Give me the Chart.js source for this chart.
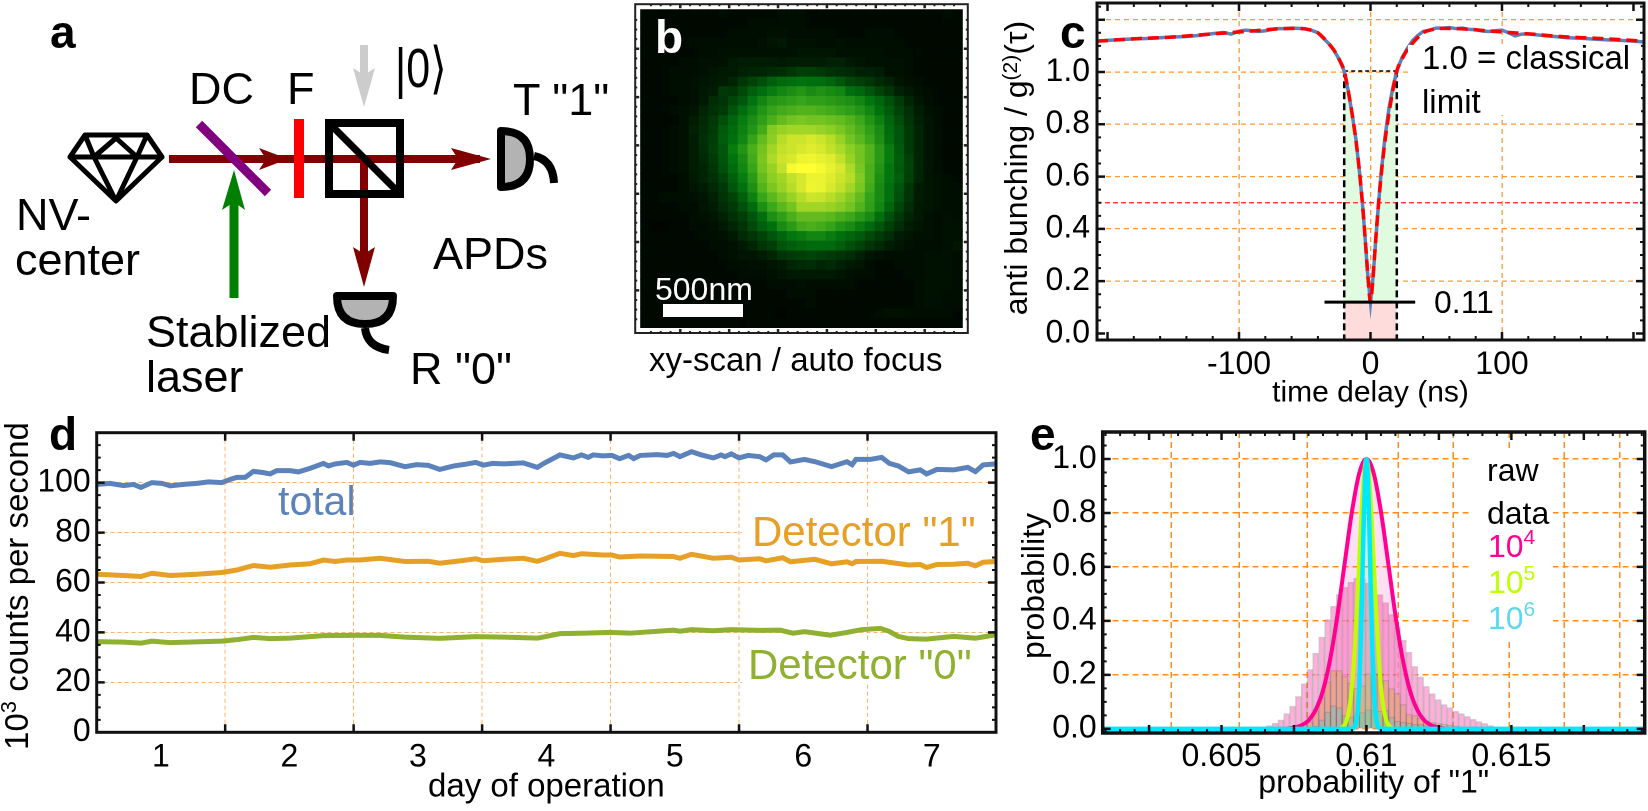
<!DOCTYPE html>
<html>
<head>
<meta charset="utf-8">
<title>NV center measurements</title>
<script src="https://cdn.jsdelivr.net/npm/chart.js@4"></script>
<style>
  html, body { margin: 0; padding: 0; background: #fff; }
  body { position: relative; width: 1648px; height: 811px; overflow: hidden; }
  .panel { position: absolute; }
  #overlay { position: absolute; left: 0; top: 0; pointer-events: none; font-family: "Liberation Sans", Arial, sans-serif; }
</style>
</head>
<body>
<div class="panel" style="left:633px;top:2px;width:337px;height:336px"><canvas id="scanChart"></canvas></div>
<div class="panel" style="left:1040px;top:0;width:608px;height:411px"><canvas id="antiChart"></canvas></div>
<div class="panel" style="left:40px;top:420px;width:965px;height:387px"><canvas id="countsChart"></canvas></div>
<div class="panel" style="left:1014px;top:420px;width:634px;height:383px"><canvas id="probChart"></canvas></div>

<svg id="overlay" width="1648" height="811" xmlns="http://www.w3.org/2000/svg">
  <!-- a: setup drawing -->
  <g fill="none" stroke="#000" stroke-width="5" stroke-linejoin="round" stroke-linecap="round">
    <path d="M85 135 L147 135 L162 157 L116 201 L70 157 Z M70 157 L162 157 M85 135 L94 157 L116 138 L137 157 L147 135 M94 157 L116 201 L137 157"/>
  </g>
  <line x1="169" y1="159" x2="480" y2="159" stroke="#800000" stroke-width="8"/>
  <polygon points="259,148 288,159 259,170 266,159" fill="#800000"/>
  <polygon points="451,148 491,159 451,170 458,159" fill="#800000"/>
  <line x1="364" y1="160" x2="364" y2="270" stroke="#800000" stroke-width="8"/>
  <polygon points="353,247 364,287 375,247 364,254" fill="#800000"/>
  <line x1="234" y1="298" x2="234" y2="200" stroke="#008000" stroke-width="9"/>
  <polygon points="222,210 234,170 245,210 234,202" fill="#008000"/>
  <line x1="364" y1="45" x2="364" y2="80" stroke="#cccccc" stroke-width="8"/>
  <polygon points="353,68 364,107 375,68 364,75" fill="#cccccc"/>
  <line x1="199" y1="124" x2="268" y2="193" stroke="#800080" stroke-width="9"/>
  <rect x="294" y="119" width="10" height="79" fill="#ff0000"/>
  <rect x="329" y="123" width="71" height="71" fill="none" stroke="#000" stroke-width="8"/>
  <line x1="331" y1="125" x2="398" y2="192" stroke="#000" stroke-width="7"/>
  <path d="M501 131 Q530 131 530 159 Q530 187 501 187 Z" fill="#b3b3b3" stroke="#000" stroke-width="8" stroke-linejoin="round"/>
  <path d="M534 156 Q553 160 554 183" fill="none" stroke="#000" stroke-width="8"/>
  <path d="M337 296 L393 296 Q393 324 365 324 Q337 324 337 296 Z" fill="#b3b3b3" stroke="#000" stroke-width="8" stroke-linejoin="round"/>
  <path d="M365 328 Q367 347 389 350" fill="none" stroke="#000" stroke-width="8"/>
  <g font-size="45" fill="#000">
    <text x="189" y="104">DC</text>
    <text x="287" y="104">F</text>
    <text x="395" y="87" font-size="56" textLength="52" lengthAdjust="spacingAndGlyphs">|0⟩</text>
    <text x="513" y="115">T "1"</text>
    <text x="16" y="230">NV-</text>
    <text x="15" y="275">center</text>
    <text x="433" y="269">APDs</text>
    <text x="146" y="347">Stablized</text>
    <text x="146" y="392">laser</text>
    <text x="410" y="384">R "0"</text>
  </g>
  <text x="50" y="48" font-size="46" font-weight="bold">a</text>

  <!-- b: labels on the scan -->
  <text x="655" y="53" font-size="46" font-weight="bold" fill="#fff">b</text>
  <text x="655" y="300" font-size="32" fill="#fff">500nm</text>
  <rect x="663" y="304" width="80" height="13" fill="#fff"/>
  <text x="649" y="371" font-size="33">xy-scan / auto focus</text>

  <!-- c -->
  <rect x="1408" y="45" width="233" height="70" fill="#fff"/>
  <text x="1060" y="48" font-size="46" font-weight="bold">c</text>
  <text x="1422" y="69" font-size="33">1.0 = classical</text>
  <text x="1422" y="113" font-size="33">limit</text>
  <text x="1434" y="313" font-size="32">0.11</text>
  <text transform="translate(1027,168) rotate(-90)" text-anchor="middle" font-size="32">anti bunching / g<tspan dy="-10" font-size="21">(2)</tspan><tspan dy="10">(τ)</tspan></text>

  <!-- d -->
  <rect x="742" y="510" width="250" height="42" fill="#fff"/>
  <rect x="742" y="642" width="250" height="42" fill="#fff"/>
  <text x="49" y="450" font-size="46" font-weight="bold">d</text>
  <text x="278" y="515" font-size="41" fill="#5b82bb">total</text>
  <text x="752" y="546" font-size="42" fill="#e5a025">Detector "1"</text>
  <text x="748" y="679" font-size="42" fill="#8fb030">Detector "0"</text>
  <text transform="translate(28,586) rotate(-90)" text-anchor="middle" font-size="33">10<tspan dy="-12" font-size="22">3</tspan><tspan dy="12"> counts per second</tspan></text>

  <!-- e -->
  <rect x="1472" y="452" width="81" height="186" fill="#fff"/>
  <text x="1030" y="450" font-size="46" font-weight="bold">e</text>
  <text transform="translate(1044,586) rotate(-90)" text-anchor="middle" font-size="32">probability</text>
  <g font-size="32">
    <text x="1487" y="481">raw</text>
    <text x="1487" y="524">data</text>
    <text x="1488" y="557" fill="#ff0090">10<tspan dy="-13" font-size="21">4</tspan></text>
    <text x="1488" y="593" fill="#c0ff00">10<tspan dy="-13" font-size="21">5</tspan></text>
    <text x="1488" y="629" fill="#5fd8ee">10<tspan dy="-13" font-size="21">6</tspan></text>
  </g>
</svg>

<script>
// b: xy scan, intensity per pixel (0..100)
const scanRows = [
  [1,1,0,1,1,1,1,1,2,1,1,1,1,1,2,2,2,1,1,1,1,1,1,1,1,1,1,1,1,1,1,2,1],
  [1,1,1,1,1,1,1,1,1,1,1,2,2,2,2,2,2,1,1,1,1,1,1,1,1,1,1,1,1,1,1,1,1],
  [1,1,1,1,1,1,1,1,1,2,2,2,2,3,3,2,2,2,2,2,1,1,1,2,2,2,1,1,1,1,1,1,1],
  [1,1,1,1,1,2,2,2,2,2,2,2,3,4,5,3,3,3,2,2,3,2,2,2,2,2,2,1,1,1,1,1,1],
  [1,1,1,1,1,1,2,2,3,3,3,3,3,3,3,3,4,4,4,4,3,3,3,3,3,2,2,2,1,1,1,1,1],
  [1,1,1,1,2,2,3,3,3,5,6,6,6,6,5,6,6,6,6,7,7,5,4,3,3,3,3,2,1,1,1,1,1],
  [1,1,1,2,2,2,3,4,5,5,7,8,8,9,10,13,16,16,14,11,10,9,7,7,6,3,3,2,1,1,1,1,1],
  [1,1,1,2,2,3,4,5,6,8,13,18,22,28,31,33,35,34,33,30,25,19,16,13,9,7,4,3,2,1,1,1,1],
  [1,1,1,2,2,3,5,6,14,13,20,28,33,38,42,45,48,44,47,44,42,34,30,24,18,12,7,5,3,2,1,1,1],
  [1,1,1,1,2,3,5,10,12,19,25,35,42,48,50,52,55,52,52,50,48,46,42,36,30,22,15,8,4,2,1,1,1],
  [1,1,1,2,3,4,8,11,15,24,33,40,48,54,58,60,62,62,60,58,55,52,48,42,34,26,18,11,6,3,2,1,1],
  [1,1,1,1,3,6,9,14,22,30,38,45,52,60,66,70,72,70,70,68,66,62,56,48,40,30,21,13,7,4,2,1,1],
  [1,1,1,2,3,7,10,15,26,32,40,48,58,74,78,80,80,80,78,76,72,66,60,52,44,32,24,15,8,4,2,1,1],
  [1,1,1,2,3,6,11,16,27,34,42,54,66,76,84,88,88,90,88,84,78,70,64,56,46,34,24,15,8,4,2,1,1],
  [1,1,1,2,3,6,10,17,25,38,48,60,70,80,86,88,90,92,90,86,82,76,70,62,50,38,26,15,8,4,2,1,1],
  [1,1,1,2,3,6,9,15,24,35,44,58,72,82,88,90,95,96,94,92,86,78,70,62,50,38,27,17,8,4,2,1,1],
  [1,1,1,2,3,6,8,13,22,32,42,55,70,78,86,98,100,100,98,94,90,82,72,60,48,36,26,18,8,4,2,1,1],
  [1,1,1,1,2,5,8,11,18,28,38,50,66,76,80,86,90,95,95,92,88,84,74,60,46,36,28,17,8,4,3,2,1],
  [1,1,1,1,2,4,6,9,14,24,34,46,62,72,78,84,90,96,95,90,86,80,72,58,44,34,24,13,6,4,3,2,2],
  [1,1,2,2,2,3,4,7,12,18,28,40,55,64,72,78,84,88,87,84,80,74,66,54,44,34,22,12,6,4,3,2,2],
  [1,1,1,1,2,2,4,6,10,14,22,32,46,56,64,70,80,80,80,78,75,70,62,52,42,30,19,10,5,4,3,2,2],
  [1,1,1,1,1,2,3,4,7,11,16,24,34,46,52,60,66,66,66,64,60,56,50,44,34,22,14,8,5,3,2,3,2],
  [1,0,0,1,1,2,2,3,5,8,12,20,28,34,44,50,58,60,58,54,48,44,38,32,24,16,10,6,4,3,2,3,3],
  [1,1,1,1,1,1,2,2,3,5,9,13,18,24,30,36,38,42,42,38,34,30,26,20,15,10,6,4,3,3,2,3,3],
  [1,1,1,1,1,1,1,2,2,3,5,8,13,16,24,28,30,32,32,32,28,22,18,13,9,6,4,3,2,2,2,3,4],
  [1,1,1,1,1,1,1,1,2,3,4,4,6,8,12,15,16,18,16,14,12,10,7,4,3,2,2,2,2,3,3,3,2],
  [1,1,1,1,1,1,1,1,1,2,2,3,3,4,5,8,9,10,8,9,7,5,4,2,1,1,2,2,2,3,3,3,2],
  [1,1,1,1,1,1,1,1,1,1,2,2,2,3,4,5,5,5,5,5,4,3,2,2,1,1,1,2,2,3,3,3,2],
  [1,1,1,1,1,1,1,1,1,1,1,1,1,2,2,2,3,2,2,2,2,2,1,1,1,1,1,1,2,3,3,3,2],
  [1,1,1,1,1,1,1,1,1,1,1,1,1,1,1,2,2,2,1,1,1,1,1,1,1,1,1,1,2,3,3,2,2],
  [1,1,1,1,1,1,1,1,1,1,1,1,1,1,1,1,1,2,1,1,1,1,1,1,1,1,1,1,2,3,3,2,2],
  [1,1,1,1,1,1,1,1,1,1,1,1,1,1,0,1,1,1,1,1,1,1,1,1,2,3,3,2,2,2,2,2,1],
  [1,1,1,1,1,1,1,1,1,1,0,1,1,1,1,1,1,1,1,1,1,1,1,1,1,1,1,1,1,1,1,1,1]
];

// c: anti bunching
const cDelay = [-208,-200,-190,-180,-170,-160,-150,-140,-130,-120,-112,-106,-100,-95,-90,-85,-80,-75,-70,-65,-60,-55,-50,-45,-40,-36,-32,-28,-24,-20,-17,-14,-11,-8,-6,-4,-2,-1,0,1,2,4,6,8,11,14,17,20,24,28,32,36,40,45,50,55,60,65,70,75,80,85,90,95,100,105,110,115,120,130,140,150,160,170,180,190,200,208];
const cMeasured = [1.118,1.121,1.124,1.127,1.128,1.131,1.134,1.136,1.14,1.147,1.151,1.145,1.156,1.16,1.158,1.155,1.158,1.163,1.166,1.166,1.168,1.167,1.165,1.16,1.15,1.13,1.11,1.085,1.05,1.004,0.93,0.84,0.74,0.6,0.49,0.36,0.22,0.17,0.12,0.17,0.22,0.36,0.49,0.61,0.75,0.86,0.94,1.004,1.055,1.09,1.12,1.14,1.155,1.16,1.168,1.168,1.17,1.166,1.168,1.163,1.162,1.157,1.155,1.158,1.16,1.15,1.138,1.145,1.146,1.14,1.136,1.131,1.129,1.126,1.123,1.121,1.118,1.115];
const cFitDelay = [-208,-180,-150,-120,-90,-70,-55,-45,-40,-36,-32,-28,-24,-20,-17,-14,-11,-8,-6,-4,-2,0,2,4,6,8,11,14,17,20,24,28,32,36,40,45,55,70,90,120,150,180,208];
const cFit = [1.118,1.127,1.134,1.146,1.157,1.165,1.167,1.16,1.15,1.132,1.11,1.085,1.05,1.004,0.93,0.84,0.735,0.6,0.49,0.36,0.22,0.12,0.22,0.36,0.49,0.6,0.735,0.84,0.93,1.004,1.05,1.085,1.11,1.132,1.15,1.16,1.167,1.165,1.157,1.146,1.134,1.127,1.118];
const cWindowDelay = [-20,-17,-14,-11,-8,-6,-4,-2,0,2,4,6,8,11,14,17,20];
const cWindowFit = [1.004,0.93,0.84,0.735,0.6,0.49,0.36,0.22,0.12,0.22,0.36,0.49,0.6,0.735,0.84,0.93,1.004];
const cDipLevel = 0.12;
const cXTicks = [-100,0,100];
const cYTicks = [0,0.2,0.4,0.6,0.8,1,1.2];

// d: seven days of count rates, 10^3 counts per second
const totalDays = [0.5,0.605,0.709,0.787,0.844,0.929,1.007,1.072,1.176,1.28,1.37,1.474,1.539,1.591,1.656,1.72,1.798,1.85,1.902,2.006,2.07,2.16,2.265,2.304,2.356,2.447,2.498,2.55,2.628,2.706,2.784,2.9,2.99,3.08,3.17,3.28,3.35,3.45,3.51,3.58,3.67,3.82,3.93,3.98,4.106,4.21,4.274,4.326,4.365,4.44,4.51,4.57,4.64,4.68,4.73,4.86,4.94,4.99,5.04,5.13,5.2,5.3,5.36,5.39,5.44,5.5,5.57,5.66,5.71,5.77,5.84,5.9,6.01,6.09,6.22,6.34,6.38,6.41,6.52,6.61,6.67,6.74,6.82,6.91,6.96,7.04,7.17,7.28,7.34,7.4,7.5];
const totalCounts = [99.3,99.7,98.8,99.3,98.1,100,99.7,98.7,99.3,99.7,100.3,100,101.3,102.1,102.1,104.5,104,103.5,104.8,104.8,104.3,105.7,107.7,106.7,107.5,108.1,107,108.1,107.7,108.3,108,106.4,107.2,106.9,105.3,106.7,107.2,108.1,107,107.7,107.5,107.9,106.1,107.7,111.1,109.9,111.1,110.1,111.1,110.7,110.9,109.6,110.9,109.6,110.9,111.2,110.9,111.7,110.4,112.4,111.2,109.9,111.1,110.4,111.5,109.9,110.9,110.4,109.1,111.1,111.1,108.3,109.3,108.4,106.4,108.4,107.2,109.3,109.3,110.1,107.7,106.7,104.3,105.1,103.5,105.3,105.1,106.1,104.4,107.1,107.5];
const det1Days = [0.5,0.709,0.844,0.929,1.072,1.28,1.474,1.591,1.72,1.85,2.006,2.16,2.265,2.356,2.447,2.55,2.706,2.9,3.08,3.17,3.35,3.45,3.51,3.67,3.82,3.93,3.98,4.106,4.21,4.274,4.44,4.51,4.57,4.73,4.99,5.04,5.13,5.3,5.44,5.5,5.66,5.71,5.84,5.9,6.09,6.22,6.34,6.38,6.41,6.61,6.82,6.91,6.96,7.04,7.17,7.28,7.34,7.4,7.5];
const det1Counts = [63.3,62.8,62.4,63.7,62.8,63.3,64,65,66.8,66.1,67,67.5,69,68.4,69,69,69.7,68.4,68.5,67.7,68.8,69.5,68.7,69.3,69.7,68.5,69.3,71.7,70.8,71.5,71,71,70.2,70.6,70.4,69.7,71.3,69.7,70.1,69,69.5,68.7,69.9,68.3,69.3,67.5,68.3,67.5,68.4,68.5,67,67.2,66,67.2,67.3,67.7,66.7,68.1,68.4];
const det0Days = [0.5,0.709,0.844,0.929,1.072,1.474,1.591,1.72,1.85,2.006,2.265,2.498,2.706,2.9,3.17,3.45,3.67,3.93,3.98,4.106,4.31,4.5,4.65,4.99,5.04,5.13,5.3,5.44,5.66,5.82,5.92,6.01,6.21,6.34,6.45,6.6,6.67,6.74,6.82,6.96,7.17,7.34,7.5];
const det0Counts = [36.3,36.1,35.7,36.5,35.9,36.5,37.1,38,37.5,37.7,38.7,38.8,38.8,38.1,37.6,38.3,38.1,37.7,38.2,39.5,39.7,40,39.7,40.9,40.5,41.1,40.7,41.1,40.8,40.9,39.7,40.3,38.9,40,41.1,41.6,40.4,38.4,37.5,37.3,38.4,37.7,39.1];
const dXTicks = [1,1.5,2,2.5,3,3.5,4,4.5,5,5.5,6,6.5,7];
const dXGrid = [1.5,2.5,3.5,4.5,5.5,6.5];
const dXLabels = [1,2,3,4,5,6,7];
const dYTicks = [0,20,40,60,80,100];

// e: histograms of the raw data and the averaged curves
const histBins = [0.60604,0.60624,0.60645,0.60665,0.60685,0.60705,0.60725,0.60745,0.60765,0.60785,0.60805,0.60825,0.60846,0.60866,0.60886,0.60906,0.60926,0.60946,0.60966,0.60986,0.61006,0.61026,0.61047,0.61067,0.61087,0.61107,0.61127,0.61147,0.61167,0.61187,0.61207,0.61227,0.61248,0.61268,0.61288,0.61308,0.61328,0.61348,0.61368,0.61388,0.61408,0.61428,0.61449,0.61469,0.61489];
const hist1e4 = [0.002,0.004,0.007,0.012,0.021,0.033,0.056,0.084,0.12,0.167,0.22,0.28,0.34,0.405,0.454,0.498,0.525,0.543,0.558,0.555,0.54,0.52,0.497,0.468,0.424,0.377,0.328,0.284,0.231,0.192,0.157,0.13,0.108,0.09,0.078,0.065,0.056,0.046,0.035,0.027,0.02,0.012,0.007,0.004,0.002];
const hist1e5 = [0,0,0,0,0,0.001,0.002,0.004,0.008,0.016,0.025,0.068,0.115,0.173,0.216,0.216,0.194,0.17,0.15,0.16,0.204,0.204,0.204,0.179,0.148,0.13,0.09,0.053,0.049,0.04,0.03,0.025,0.02,0.017,0.014,0.01,0.007,0.004,0.003,0.002,0.001,0,0,0,0];
const hist1e6 = [0,0,0,0,0,0,0,0,0,0.002,0.005,0.009,0.033,0.062,0.085,0.078,0.049,0.043,0.049,0.06,0.07,0.068,0.065,0.068,0.043,0.028,0.025,0.021,0.016,0.016,0.012,0.01,0.008,0.006,0.005,0.004,0.003,0.002,0.001,0,0,0,0,0,0];
const curve1e4X = [0.6009,0.607,0.6075,0.60775,0.608,0.60825,0.6085,0.60875,0.609,0.60925,0.6095,0.60975,0.61,0.61025,0.6105,0.61075,0.611,0.61125,0.6115,0.61175,0.612,0.61225,0.6125,0.613,0.6196];
const curve1e4Y = [0,0,0.0045,0.0125,0.031,0.071,0.142,0.259,0.421,0.615,0.805,0.947,1,0.947,0.805,0.615,0.421,0.259,0.142,0.071,0.031,0.0125,0.0045,0,0];
const curve1e5X = [0.6009,0.609,0.6092,0.6093,0.6094,0.6095,0.6096,0.6097,0.6098,0.6099,0.61,0.6101,0.6102,0.6103,0.6104,0.6105,0.6106,0.6107,0.6108,0.611,0.6196];
const curve1e5Y = [0,0,0.009,0.027,0.07,0.157,0.306,0.514,0.744,0.929,1,0.929,0.744,0.514,0.306,0.157,0.07,0.027,0.009,0,0];
const curve1e6X = [0.6009,0.6095,0.6096,0.60965,0.6097,0.60975,0.6098,0.60985,0.6099,0.60995,0.61,0.61005,0.6101,0.61015,0.6102,0.61025,0.6103,0.61035,0.6104,0.6105,0.6196];
const curve1e6Y = [0,0,0.009,0.027,0.07,0.157,0.306,0.514,0.744,0.929,1,0.929,0.744,0.514,0.306,0.157,0.07,0.027,0.009,0,0];
const eXLabels = [0.605,0.61,0.615];
const eXGrid = [0.60326,0.60561,0.60796,0.61109,0.613,0.61492,0.61683,0.61874];
const eYTicks = [0,0.2,0.4,0.6,0.8,1];

Chart.defaults.font.family = '"Liberation Sans", Arial, sans-serif';
Chart.defaults.color = "#000";
Chart.defaults.animation = false;
Chart.defaults.responsive = false;
Chart.defaults.devicePixelRatio = 2;

// only for the inside tick marks, not for data
function marks(from, to, step) {
  const out = [];
  const n = Math.round((to - from) / step);
  for (let i = 0; i <= n; i++) out.push(from + i * step);
  return out;
}

// frame round the plot with the ticks pointing inwards
const framePlugin = {
  id: "frame",
  afterDatasetsDraw(chart, args, o) {
    const { ctx, chartArea: a, scales } = chart;
    const out = o.outset || 0;
    const L = a.left - out, R = a.right + out, T = a.top - out, B = a.bottom + out;
    ctx.save();
    ctx.strokeStyle = o.color || "#111";
    const drawTicks = (xs, ys, len, w) => {
      ctx.lineWidth = w;
      ctx.beginPath();
      (xs || []).forEach((v) => {
        const p = scales.x.getPixelForValue(v);
        ctx.moveTo(p, B); ctx.lineTo(p, B - len);
        ctx.moveTo(p, T); ctx.lineTo(p, T + len);
      });
      (ys || []).forEach((v) => {
        const p = scales.y.getPixelForValue(v);
        ctx.moveTo(L, p); ctx.lineTo(L + len, p);
        ctx.moveTo(R, p); ctx.lineTo(R - len, p);
      });
      ctx.stroke();
    };
    drawTicks(o.xMinor, o.yMinor, o.minorLen || 4, 2);
    drawTicks(o.xMajor, o.yMajor, o.majorLen || 8, 2.5);
    ctx.lineWidth = o.width || 3;
    ctx.strokeRect(L, T, R - L, B - T);
    ctx.restore();
  },
};
Chart.register(framePlugin);

// scale with a fixed box size so the plot area lands where it should
function axis(opts) {
  const grid = opts.grid || opts.ticks;
  const labels = opts.labels || opts.ticks;
  const horizontal = opts.side === "x";
  return {
    type: "linear",
    min: opts.min,
    max: opts.max,
    offset: false,
    afterBuildTicks(s) {
      s.ticks = opts.ticks.map((v) => ({ value: v }));
    },
    afterFit(s) {
      if (horizontal) s.height = opts.box;
      else s.width = opts.box;
      s.paddingLeft = s.paddingRight = s.paddingTop = s.paddingBottom = 0;
    },
    grid: {
      offset: false,
      drawTicks: false,
      lineWidth: opts.gridWidth,
      color(ctx) {
        return ctx.tick && grid.includes(ctx.tick.value) ? opts.gridColor : "transparent";
      },
    },
    border: { display: false, dash: opts.dash },
    ticks: {
      autoSkip: false,
      maxRotation: 0,
      padding: opts.padding,
      font: { size: 32 },
      callback(v) {
        return labels.includes(v) ? opts.format(v) : "";
      },
    },
    title: opts.title
      ? { display: true, text: opts.title, font: { size: opts.titleSize || 32 }, padding: 0 }
      : { display: false },
  };
}

function lineSet(xs, ys, color, width, extra) {
  return Object.assign(
    {
      type: "line",
      data: xs.map((x, i) => ({ x: x, y: ys[i] })),
      borderColor: color,
      borderWidth: width,
      pointRadius: 0,
      fill: false,
      cubicInterpolationMode: "monotone",
    },
    extra || {}
  );
}

function barSet(ys, fill) {
  return {
    type: "bar",
    data: histBins.map((x, i) => ({ x: x, y: ys[i] })),
    backgroundColor: fill,
    borderColor: "rgba(90,90,90,0.3)",
    borderWidth: 1,
    barThickness: 5.83,
    grouped: false,
  };
}

const basePlugins = { legend: { display: false }, tooltip: { enabled: false } };

// colour scale of the scan picture
const scanStops = [
  [0, 0, 5, 0],
  [10, 0, 45, 5],
  [35, 0, 115, 15],
  [55, 55, 165, 25],
  [75, 135, 205, 35],
  [90, 215, 232, 45],
  [100, 255, 255, 50],
];
function scanColor(v) {
  let i = 0;
  while (i < scanStops.length - 2 && v > scanStops[i + 1][0]) i++;
  const a = scanStops[i], b = scanStops[i + 1];
  const t = (v - a[0]) / (b[0] - a[0]);
  return `rgb(${a[1] + t * (b[1] - a[1])},${a[2] + t * (b[2] - a[2])},${a[3] + t * (b[3] - a[3])})`;
}

function sizeCanvas(id) {
  const c = document.getElementById(id);
  const box = c.parentNode.getBoundingClientRect();
  c.width = box.width;
  c.height = box.height;
  c.style.display = "block";
  return c;
}

// panel b
new Chart(sizeCanvas("scanChart"), {
  type: "scatter",
  data: {
    datasets: [
      {
        data: scanRows.flatMap((row, r) => row.map((v, c) => ({ x: c, y: r, v: v }))),
        pointStyle: "rect",
        pointRadius: 7.2,
        borderWidth: 0,
        backgroundColor: (ctx) => scanColor(ctx.raw ? ctx.raw.v : 0),
      },
    ],
  },
  options: {
    layout: { padding: { left: 7, right: 7, top: 6, bottom: 10 } },
    scales: {
      x: { type: "linear", display: false, min: -0.5, max: 32.5 },
      y: { type: "linear", display: false, min: -0.5, max: 32.5, reverse: true },
    },
    plugins: Object.assign({}, basePlugins, {
      frame: {
        outset: 5,
        width: 2,
        color: "#222",
        xMajor: [3.6, 8.6, 13.6, 18.6, 23.6, 28.6],
        yMajor: [3.6, 8.6, 13.6, 18.6, 23.6, 28.6],
        xMinor: marks(0.6, 31.6, 1),
        yMinor: marks(0.6, 31.6, 1),
        majorLen: 4,
        minorLen: 2,
      },
    }),
  },
});

// panel c
new Chart(sizeCanvas("antiChart"), {
  type: "line",
  data: {
    datasets: [
      lineSet([-35, 34], [cDipLevel, cDipLevel], "#000", 3),
      lineSet(cFitDelay, cFit, "#ff0000", 3.5, { borderDash: [11, 6] }),
      lineSet(cDelay, cMeasured, "#5b82bb", 3.5, { cubicInterpolationMode: "default" }),
      lineSet([-20, -20], [-0.03, 1.004], "#000", 2.5, { borderDash: [7, 4] }),
      lineSet([20, 20], [-0.03, 1.004], "#000", 2.5, { borderDash: [7, 4] }),
      lineSet([-20, 20], [1.004, 1.004], "#000", 1.5, { borderDash: [4, 3] }),
      lineSet([-208, 208], [0.5, 0.5], "#ff2020", 1.3, { borderDash: [5, 3] }),
      lineSet(cWindowDelay, cWindowFit, "transparent", 0, {
        cubicInterpolationMode: "default",
        fill: { value: cDipLevel },
        backgroundColor: "#e0fbe0",
      }),
      lineSet([-20, 20], [cDipLevel, cDipLevel], "transparent", 0, {
        fill: { value: -0.03 },
        backgroundColor: "#ffdcdc",
      }),
    ],
  },
  options: {
    layout: { padding: { left: 0, right: 4, top: 3, bottom: 0 } },
    scales: {
      x: axis({
        side: "x", min: -208, max: 208, ticks: cXTicks, box: 71, padding: 6,
        gridColor: "#ff9a2e", gridWidth: 1.3, dash: [5, 4], format: (v) => String(v),
        title: "time delay (ns)", titleSize: 30,
      }),
      y: axis({
        side: "y", min: -0.025, max: 1.264, ticks: cYTicks, grid: [0.2, 0.4, 0.6, 0.8, 1, 1.2],
        labels: [0, 0.2, 0.4, 0.6, 0.8, 1], box: 57, padding: 7,
        gridColor: "#ff9a2e", gridWidth: 1.3, dash: [5, 4], format: (v) => v.toFixed(1),
      }),
    },
    plugins: Object.assign({}, basePlugins, {
      frame: {
        xMajor: marks(-200, 200, 100),
        xMinor: marks(-200, 200, 20),
        yMajor: cYTicks,
        yMinor: marks(0, 1.25, 0.05),
      },
    }),
  },
});

// panel d
new Chart(sizeCanvas("countsChart"), {
  type: "line",
  data: {
    datasets: [
      lineSet(totalDays, totalCounts, "#5b82bb", 5, { cubicInterpolationMode: "default" }),
      lineSet(det1Days, det1Counts, "#e5a025", 5, { cubicInterpolationMode: "default" }),
      lineSet(det0Days, det0Counts, "#8fb030", 5, { cubicInterpolationMode: "default" }),
    ],
  },
  options: {
    layout: { padding: { left: 0, right: 9, top: 12.7, bottom: 0 } },
    scales: {
      x: axis({
        side: "x", min: 0.5, max: 7.5, ticks: dXTicks, grid: dXGrid, labels: dXLabels,
        box: 74.7, padding: 6, gridColor: "#ffb26b", gridWidth: 1, dash: [4, 3],
        format: (v) => String(v), title: "day of operation", titleSize: 33,
      }),
      y: axis({
        side: "y", min: 0, max: 120, ticks: dYTicks, grid: [20, 40, 60, 80, 100], box: 56.7, padding: 6,
        gridColor: "#ffb26b", gridWidth: 1, dash: [4, 3], format: (v) => String(v),
      }),
    },
    plugins: Object.assign({}, basePlugins, {
      frame: {
        xMajor: marks(1.5, 6.5, 1),
        yMajor: marks(0, 120, 20),
        yMinor: marks(0, 120, 5),
      },
    }),
  },
});

// panel e
new Chart(sizeCanvas("probChart"), {
  type: "line",
  data: {
    datasets: [
      lineSet(curve1e6X, curve1e6Y, "#00e8ff", 4.5, { fill: "origin", backgroundColor: "rgba(0,232,255,0.10)" }),
      lineSet(curve1e5X, curve1e5Y, "#c0ff00", 4, { fill: "origin", backgroundColor: "rgba(192,255,0,0.10)" }),
      lineSet(curve1e4X, curve1e4Y, "#ff0090", 4, { fill: "origin", backgroundColor: "rgba(255,0,144,0.12)" }),
      barSet(hist1e6, "rgba(150,208,170,0.85)"),
      barSet(hist1e5, "rgba(230,188,130,0.85)"),
      barSet(hist1e4, "rgba(255,150,205,0.75)"),
    ],
  },
  options: {
    layout: { padding: { left: 0, right: 3.3, top: 12, bottom: 0 } },
    scales: {
      x: axis({
        side: "x", min: 0.6009, max: 0.6196, ticks: eXLabels.concat(eXGrid), grid: eXGrid, labels: eXLabels,
        box: 70, padding: 5, gridColor: "#ff8c1a", gridWidth: 1.5, dash: [6, 4],
        format: (v) => String(v), title: 'probability of "1"',
      }),
      y: axis({
        side: "y", min: -0.0155, max: 1.1, ticks: eYTicks, box: 88.7, padding: 6,
        gridColor: "#ff8c1a", gridWidth: 1.5, dash: [6, 4], format: (v) => v.toFixed(1),
      }),
    },
    plugins: Object.assign({}, basePlugins, {
      frame: {
        width: 3.5,
        xMajor: marks(0.6025, 0.6175, 0.0025),
        xMinor: marks(0.601, 0.6195, 0.0005),
        yMajor: eYTicks,
        yMinor: marks(0, 1.1, 0.05),
      },
    }),
  },
});
</script>
</body>
</html>
